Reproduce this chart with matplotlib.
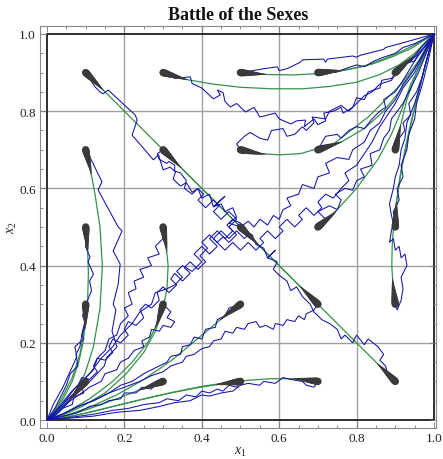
import numpy as np
import matplotlib
matplotlib.use("Agg")
import matplotlib.pyplot as plt
from matplotlib.collections import LineCollection

plt.rcParams['font.family'] = 'serif'
plt.rcParams['font.serif'] = ['Liberation Serif', 'DejaVu Serif']
plt.rcParams['mathtext.fontset'] = 'custom'
plt.rcParams['mathtext.rm'] = 'Liberation Serif'
plt.rcParams['mathtext.it'] = 'Liberation Serif:italic'

TITLE = "Battle of the Sexes"
XLABEL = "$x_1$"
YLABEL = "$x_2$"
tick_values = [0.0, 0.2, 0.4, 0.6, 0.8, 1.0]
tick_labels = ["0.0", "0.2", "0.4", "0.6", "0.8", "1.0"]

# starting points (comet heads)
starts = [(0.1, 0.9), (0.3, 0.9), (0.5, 0.9), (0.7, 0.9), (0.9, 0.9),
          (0.1, 0.7), (0.3, 0.7), (0.5, 0.7), (0.7, 0.7), (0.9, 0.7),
          (0.1, 0.5), (0.3, 0.5), (0.5, 0.5), (0.7, 0.5), (0.9, 0.5),
          (0.1, 0.3), (0.3, 0.3), (0.5, 0.3), (0.7, 0.3), (0.9, 0.3),
          (0.1, 0.1), (0.3, 0.1), (0.5, 0.1), (0.7, 0.1), (0.9, 0.1)]

# deterministic trajectories (green), same order as starts
green_paths = [
    [(0.1, 0.9), (0.3, 0.7), (0.5, 0.5)],
    [(0.30, 0.90), (0.36, 0.882), (0.43, 0.870), (0.50, 0.862), (0.58, 0.858), (0.66, 0.858), (0.73, 0.864), (0.80, 0.875), (0.86, 0.895), (0.91, 0.92), (0.95, 0.95), (1, 1)],
    [(0.50, 0.90), (0.57, 0.895), (0.64, 0.894), (0.71, 0.898), (0.78, 0.908), (0.84, 0.922), (0.89, 0.94), (0.94, 0.962), (1, 1)],
    [(0.70, 0.90), (0.76, 0.905), (0.82, 0.917), (0.87, 0.935), (0.92, 0.957), (0.96, 0.977), (1, 1)],
    [(0.9, 0.9), (0.95, 0.945), (1, 1)],
    [(0.10, 0.70), (0.111, 0.655), (0.124, 0.585), (0.137, 0.50), (0.143, 0.40), (0.137, 0.29), (0.12, 0.19), (0.098, 0.12), (0.065, 0.06), (0.03, 0.02), (0, 0)],
    [(0.3, 0.7), (0.5, 0.5)],
    [(0.50, 0.70), (0.55, 0.69), (0.60, 0.687), (0.655, 0.69), (0.74, 0.715), (0.83, 0.785), (0.875, 0.83), (0.915, 0.87), (0.96, 0.93), (1, 1)],
    [(0.70, 0.70), (0.76, 0.72), (0.82, 0.755), (0.87, 0.80), (0.91, 0.85), (0.95, 0.91), (1, 1)],
    [(0.90, 0.70), (0.913, 0.76), (0.93, 0.83), (0.955, 0.90), (0.98, 0.96), (1, 1)],
    [(0.10, 0.50), (0.105, 0.44), (0.107, 0.38), (0.105, 0.31), (0.098, 0.24), (0.085, 0.17), (0.065, 0.11), (0.04, 0.06), (0.018, 0.022), (0, 0)],
    [(0.30, 0.50), (0.308, 0.45), (0.313, 0.40), (0.31, 0.34), (0.30, 0.29), (0.28, 0.23), (0.25, 0.175), (0.205, 0.12), (0.15, 0.07), (0.09, 0.035), (0.04, 0.012), (0, 0)],
    [(0.5, 0.5), (0.56, 0.44)],
    [(0.70, 0.50), (0.74, 0.534), (0.80, 0.60), (0.855, 0.675), (0.89, 0.74), (0.915, 0.80), (0.94, 0.87), (0.97, 0.93), (1, 1)],
    [(0.90, 0.50), (0.903, 0.56), (0.912, 0.63), (0.925, 0.70), (0.94, 0.77), (0.958, 0.84), (0.975, 0.91), (1, 1)],
    [(0.10, 0.30), (0.099, 0.25), (0.093, 0.20), (0.082, 0.15), (0.065, 0.10), (0.042, 0.055), (0.018, 0.02), (0, 0)],
    [(0.30, 0.30), (0.285, 0.25), (0.26, 0.20), (0.22, 0.15), (0.17, 0.10), (0.11, 0.055), (0.05, 0.02), (0, 0)],
    [(0.50, 0.30), (0.46, 0.27), (0.41, 0.228), (0.36, 0.186), (0.32, 0.153), (0.25, 0.105), (0.18, 0.065), (0.11, 0.033), (0.05, 0.012), (0, 0)],
    [(0.7, 0.3), (0.5, 0.5)],
    [(0.90, 0.30), (0.894, 0.35), (0.891, 0.40), (0.892, 0.45), (0.896, 0.51), (0.905, 0.58), (0.918, 0.66), (0.935, 0.74), (0.955, 0.83), (0.975, 0.91), (1, 1)],
    [(0.1, 0.1), (0.07, 0.065), (0.04, 0.035), (0, 0)],
    [(0.30, 0.10), (0.24, 0.078), (0.18, 0.055), (0.12, 0.033), (0.06, 0.013), (0, 0)],
    [(0.50, 0.10), (0.44, 0.092), (0.38, 0.082), (0.31, 0.068), (0.24, 0.052), (0.17, 0.035), (0.10, 0.018), (0.05, 0.007), (0, 0)],
    [(0.70, 0.10), (0.64, 0.107), (0.58, 0.107), (0.52, 0.103), (0.46, 0.096), (0.405, 0.088), (0.33, 0.073), (0.26, 0.057), (0.19, 0.04), (0.12, 0.022), (0.06, 0.009), (0, 0)],
    [(0.9, 0.1), (0.7, 0.3), (0.5, 0.5)],
]

# stochastic trajectories (blue), waypoints
blue_paths = [
    [(0.10, 0.90), (0.124, 0.863), (0.137, 0.85), (0.145, 0.845), (0.158, 0.855), (0.228, 0.79), (0.233, 0.777), (0.22, 0.738), (0.275, 0.674), (0.288, 0.687), (0.30, 0.648), (0.318, 0.655), (0.332, 0.643), (0.326, 0.624), (0.345, 0.606), (0.36, 0.615), (0.375, 0.59), (0.39, 0.60), (0.40, 0.575), (0.42, 0.585), (0.43, 0.552), (0.46, 0.58), (0.43, 0.552), (0.45, 0.56), (0.46, 0.54), (0.48, 0.55), (0.49, 0.525), (0.47, 0.51), (0.50, 0.50), (0.52, 0.515), (0.535, 0.50), (0.55, 0.52), (0.57, 0.505), (0.585, 0.53), (0.60, 0.52), (0.61, 0.545), (0.63, 0.555), (0.62, 0.575), (0.65, 0.585), (0.66, 0.61), (0.69, 0.60), (0.70, 0.63), (0.73, 0.64), (0.72, 0.665), (0.75, 0.68), (0.78, 0.675), (0.79, 0.70), (0.82, 0.72), (0.835, 0.75), (0.86, 0.77), (0.875, 0.80), (0.90, 0.83), (0.92, 0.87), (0.95, 0.91), (0.975, 0.955), (1, 1)],
    [(0.30, 0.90), (0.33, 0.885), (0.37, 0.889), (0.375, 0.872), (0.40, 0.86), (0.43, 0.832), (0.448, 0.842), (0.44, 0.855), (0.455, 0.848), (0.46, 0.825), (0.474, 0.811), (0.49, 0.82), (0.513, 0.798), (0.535, 0.81), (0.55, 0.785), (0.57, 0.79), (0.59, 0.795), (0.60, 0.78), (0.63, 0.767), (0.645, 0.775), (0.668, 0.777), (0.665, 0.76), (0.69, 0.78), (0.70, 0.765), (0.72, 0.775), (0.715, 0.795), (0.74, 0.80), (0.76, 0.81), (0.765, 0.795), (0.79, 0.81), (0.80, 0.835), (0.82, 0.83), (0.83, 0.85), (0.86, 0.86), (0.865, 0.88), (0.89, 0.885), (0.91, 0.91), (0.94, 0.93), (0.97, 0.96), (1, 1)],
    [(0.50, 0.90), (0.56, 0.91), (0.595, 0.915), (0.60, 0.905), (0.62, 0.91), (0.655, 0.927), (0.66, 0.933), (0.715, 0.935), (0.72, 0.927), (0.725, 0.935), (0.79, 0.943), (0.80, 0.94), (0.81, 0.945), (0.87, 0.96), (0.875, 0.965), (0.93, 0.98), (1, 1)],
    [(0.70, 0.90), (0.73, 0.905), (0.745, 0.90), (0.77, 0.91), (0.80, 0.92), (0.82, 0.915), (0.845, 0.93), (0.87, 0.94), (0.90, 0.95), (0.92, 0.965), (0.95, 0.975), (1, 1)],
    [(0.90, 0.90), (0.92, 0.91), (0.93, 0.925), (0.95, 0.93), (0.96, 0.95), (0.98, 0.97), (1, 1)],
    [(0.10, 0.70), (0.111, 0.681), (0.142, 0.617), (0.132, 0.596), (0.184, 0.50), (0.194, 0.49), (0.171, 0.438), (0.189, 0.404), (0.184, 0.352), (0.171, 0.30), (0.178, 0.285), (0.168, 0.23), (0.181, 0.189), (0.155, 0.163), (0.148, 0.14), (0.111, 0.10), (0.067, 0.06), (0.03, 0.025), (0, 0)],
    [(0.30, 0.70), (0.285, 0.69), (0.29, 0.675), (0.31, 0.665), (0.315, 0.67), (0.33, 0.66), (0.33, 0.645), (0.345, 0.64), (0.36, 0.62), (0.355, 0.60), (0.375, 0.585), (0.39, 0.60), (0.405, 0.585), (0.39, 0.57), (0.41, 0.55), (0.43, 0.57), (0.445, 0.555), (0.43, 0.54), (0.45, 0.52), (0.47, 0.54), (0.49, 0.52), (0.47, 0.50), (0.49, 0.48), (0.47, 0.46), (0.455, 0.475), (0.44, 0.46), (0.42, 0.48), (0.40, 0.46), (0.415, 0.445), (0.395, 0.425), (0.41, 0.41), (0.39, 0.39), (0.37, 0.41), (0.355, 0.395), (0.37, 0.38), (0.35, 0.36), (0.33, 0.38), (0.32, 0.365), (0.335, 0.35), (0.315, 0.33), (0.30, 0.345), (0.285, 0.33), (0.29, 0.31), (0.27, 0.29), (0.255, 0.30), (0.24, 0.285), (0.25, 0.265), (0.23, 0.245), (0.21, 0.255), (0.20, 0.235), (0.21, 0.22), (0.19, 0.20), (0.17, 0.21), (0.16, 0.19), (0.17, 0.175), (0.15, 0.155), (0.13, 0.16), (0.12, 0.14), (0.13, 0.125), (0.11, 0.105), (0.09, 0.11), (0.08, 0.09), (0.06, 0.07), (0.04, 0.045), (0.02, 0.02), (0, 0)],
    [(0.50, 0.70), (0.49, 0.715), (0.51, 0.735), (0.525, 0.745), (0.55, 0.73), (0.57, 0.725), (0.58, 0.75), (0.61, 0.755), (0.62, 0.735), (0.64, 0.74), (0.66, 0.76), (0.67, 0.75), (0.69, 0.77), (0.685, 0.785), (0.72, 0.78), (0.73, 0.80), (0.76, 0.815), (0.78, 0.80), (0.80, 0.82), (0.82, 0.84), (0.84, 0.85), (0.86, 0.87), (0.89, 0.88), (0.91, 0.91), (0.94, 0.93), (0.97, 0.97), (1, 1)],
    [(0.70, 0.70), (0.72, 0.735), (0.75, 0.74), (0.76, 0.73), (0.78, 0.75), (0.80, 0.76), (0.82, 0.755), (0.84, 0.78), (0.86, 0.80), (0.875, 0.81), (0.87, 0.83), (0.90, 0.85), (0.92, 0.88), (0.95, 0.93), (1, 1)],
    [(0.90, 0.70), (0.91, 0.73), (0.925, 0.75), (0.92, 0.77), (0.94, 0.79), (0.935, 0.82), (0.955, 0.85), (0.97, 0.89), (0.98, 0.93), (1, 1)],
    [(0.10, 0.50), (0.10, 0.448), (0.111, 0.422), (0.106, 0.41), (0.12, 0.378), (0.11, 0.36), (0.115, 0.335), (0.104, 0.308), (0.098, 0.256), (0.09, 0.222), (0.095, 0.21), (0.072, 0.19), (0.077, 0.165), (0.065, 0.137), (0.041, 0.085), (0.016, 0.04), (0, 0)],
    [(0.30, 0.50), (0.30, 0.47), (0.28, 0.45), (0.29, 0.43), (0.26, 0.42), (0.27, 0.40), (0.24, 0.39), (0.25, 0.37), (0.225, 0.36), (0.23, 0.34), (0.21, 0.33), (0.22, 0.30), (0.20, 0.29), (0.21, 0.27), (0.19, 0.25), (0.18, 0.22), (0.16, 0.21), (0.15, 0.18), (0.13, 0.16), (0.12, 0.13), (0.09, 0.10), (0.07, 0.07), (0.04, 0.04), (0, 0)],
    [(0.50, 0.50), (0.52, 0.48), (0.51, 0.47), (0.49, 0.49), (0.47, 0.47), (0.45, 0.49), (0.43, 0.47), (0.44, 0.46), (0.46, 0.44), (0.48, 0.46), (0.50, 0.44), (0.52, 0.46), (0.54, 0.44), (0.56, 0.46), (0.55, 0.47), (0.57, 0.49), (0.59, 0.47), (0.61, 0.49), (0.60, 0.50), (0.62, 0.52), (0.64, 0.50), (0.66, 0.52), (0.65, 0.53), (0.67, 0.55), (0.69, 0.53), (0.71, 0.55), (0.70, 0.565), (0.72, 0.585), (0.74, 0.575), (0.76, 0.60), (0.78, 0.62), (0.77, 0.64), (0.80, 0.66), (0.82, 0.69), (0.84, 0.72), (0.86, 0.76), (0.88, 0.79), (0.90, 0.82), (0.92, 0.86), (0.95, 0.90), (0.98, 0.96), (1, 1)],
    [(0.70, 0.50), (0.72, 0.52), (0.70, 0.54), (0.73, 0.555), (0.75, 0.545), (0.76, 0.57), (0.745, 0.585), (0.77, 0.60), (0.79, 0.595), (0.80, 0.62), (0.82, 0.63), (0.81, 0.65), (0.84, 0.66), (0.835, 0.69), (0.86, 0.70), (0.87, 0.73), (0.885, 0.75), (0.89, 0.78), (0.92, 0.82), (0.94, 0.86), (0.96, 0.90), (0.98, 0.95), (1, 1)],
    [(0.90, 0.50), (0.895, 0.54), (0.91, 0.57), (0.905, 0.60), (0.92, 0.63), (0.915, 0.66), (0.93, 0.70), (0.935, 0.74), (0.95, 0.78), (0.955, 0.82), (0.97, 0.87), (0.985, 0.93), (1, 1)],
    [(0.10, 0.30), (0.092, 0.27), (0.10, 0.25), (0.09, 0.22), (0.085, 0.19), (0.075, 0.17), (0.08, 0.14), (0.06, 0.12), (0.05, 0.09), (0.035, 0.06), (0.02, 0.03), (0, 0)],
    [(0.30, 0.30), (0.32, 0.28), (0.31, 0.265), (0.33, 0.255), (0.32, 0.24), (0.30, 0.245), (0.29, 0.23), (0.27, 0.235), (0.265, 0.215), (0.245, 0.205), (0.25, 0.19), (0.225, 0.18), (0.21, 0.16), (0.19, 0.15), (0.18, 0.13), (0.15, 0.12), (0.14, 0.10), (0.11, 0.085), (0.09, 0.07), (0.06, 0.05), (0.03, 0.02), (0, 0)],
    [(0.50, 0.30), (0.47, 0.29), (0.46, 0.27), (0.44, 0.26), (0.435, 0.24), (0.41, 0.235), (0.40, 0.21), (0.38, 0.215), (0.37, 0.195), (0.35, 0.19), (0.345, 0.17), (0.32, 0.165), (0.31, 0.15), (0.29, 0.14), (0.27, 0.13), (0.25, 0.12), (0.22, 0.10), (0.19, 0.09), (0.16, 0.07), (0.12, 0.05), (0.08, 0.035), (0.04, 0.015), (0, 0)],
    [(0.70, 0.30), (0.69, 0.285), (0.67, 0.275), (0.665, 0.26), (0.65, 0.27), (0.64, 0.255), (0.62, 0.26), (0.61, 0.245), (0.59, 0.25), (0.585, 0.235), (0.565, 0.245), (0.55, 0.24), (0.54, 0.255), (0.52, 0.25), (0.51, 0.235), (0.49, 0.24), (0.48, 0.225), (0.46, 0.23), (0.45, 0.21), (0.43, 0.205), (0.42, 0.19), (0.40, 0.185), (0.38, 0.17), (0.36, 0.165), (0.35, 0.15), (0.32, 0.14), (0.30, 0.125), (0.27, 0.115), (0.24, 0.10), (0.20, 0.085), (0.16, 0.07), (0.12, 0.05), (0.08, 0.035), (0.04, 0.015), (0, 0)],
    [(0.90, 0.30), (0.905, 0.285), (0.915, 0.31), (0.92, 0.34), (0.915, 0.37), (0.93, 0.40), (0.925, 0.43), (0.915, 0.42), (0.91, 0.45), (0.90, 0.44), (0.895, 0.47), (0.885, 0.46), (0.89, 0.49), (0.895, 0.51), (0.89, 0.53), (0.885, 0.56), (0.895, 0.60), (0.90, 0.63), (0.91, 0.66), (0.915, 0.70), (0.925, 0.73), (0.93, 0.77), (0.95, 0.82), (0.965, 0.87), (0.98, 0.93), (1, 1)],
    [(0.10, 0.10), (0.09, 0.085), (0.095, 0.07), (0.07, 0.06), (0.065, 0.04), (0.04, 0.03), (0.02, 0.01), (0, 0)],
    [(0.30, 0.10), (0.28, 0.095), (0.27, 0.08), (0.245, 0.085), (0.23, 0.07), (0.20, 0.07), (0.19, 0.055), (0.16, 0.05), (0.14, 0.04), (0.11, 0.035), (0.08, 0.02), (0.05, 0.012), (0, 0)],
    [(0.50, 0.10), (0.49, 0.085), (0.47, 0.09), (0.455, 0.075), (0.44, 0.08), (0.42, 0.07), (0.40, 0.075), (0.385, 0.06), (0.36, 0.065), (0.34, 0.05), (0.31, 0.055), (0.29, 0.045), (0.25, 0.04), (0.21, 0.03), (0.17, 0.025), (0.12, 0.015), (0.07, 0.008), (0, 0)],
    [(0.70, 0.10), (0.69, 0.085), (0.67, 0.09), (0.66, 0.10), (0.63, 0.105), (0.61, 0.11), (0.59, 0.095), (0.56, 0.10), (0.55, 0.09), (0.52, 0.095), (0.50, 0.09), (0.48, 0.075), (0.45, 0.07), (0.42, 0.062), (0.40, 0.065), (0.37, 0.05), (0.33, 0.045), (0.29, 0.035), (0.24, 0.025), (0.18, 0.02), (0.12, 0.01), (0.06, 0.005), (0, 0)],
    [(0.90, 0.10), (0.88, 0.12), (0.875, 0.14), (0.86, 0.155), (0.87, 0.17), (0.855, 0.19), (0.83, 0.21), (0.82, 0.195), (0.80, 0.22), (0.79, 0.20), (0.77, 0.22), (0.76, 0.21), (0.75, 0.235), (0.73, 0.25), (0.71, 0.26), (0.69, 0.28), (0.68, 0.30), (0.66, 0.32), (0.645, 0.345), (0.63, 0.335), (0.62, 0.36), (0.60, 0.375), (0.585, 0.39), (0.595, 0.41), (0.57, 0.42), (0.59, 0.44), (0.57, 0.42), (0.56, 0.445), (0.54, 0.455), (0.53, 0.48), (0.51, 0.49), (0.50, 0.51), (0.48, 0.52), (0.465, 0.505), (0.48, 0.49), (0.46, 0.47), (0.44, 0.49), (0.42, 0.47), (0.44, 0.45), (0.42, 0.43), (0.40, 0.45), (0.38, 0.43), (0.40, 0.41), (0.375, 0.385), (0.35, 0.40), (0.335, 0.385), (0.35, 0.37), (0.33, 0.35), (0.31, 0.34), (0.28, 0.33), (0.27, 0.30), (0.24, 0.28), (0.22, 0.25), (0.19, 0.22), (0.17, 0.19), (0.14, 0.16), (0.11, 0.12), (0.07, 0.08), (0.04, 0.04), (0, 0)],
]

GREEN = '#35924a'
BLUE = '#1212aa'
COMET = '#3a3a3a'


def draw_comet(ax, path, length=0.065, n=18, wmax=5.4, wmin=0.6):
    p = np.asarray(path, float)
    d = np.r_[0, np.cumsum(np.hypot(*np.diff(p, axis=0).T))]
    L = min(length, d[-1])
    s = np.linspace(0, L, n)
    xs = np.interp(s, d, p[:, 0])
    ys = np.interp(s, d, p[:, 1])
    segs = [[(xs[i], ys[i]), (xs[i + 1], ys[i + 1])] for i in range(n - 1)]
    widths = np.linspace(wmax, wmin, n - 1)
    lc = LineCollection(segs, linewidths=widths, colors=COMET,
                        capstyle='round', zorder=5)
    ax.add_collection(lc)


fig = plt.figure(figsize=(4.43, 4.60), dpi=100)
ax = fig.add_axes([40 / 443, 31 / 460, 396 / 443, 402 / 460])
ax.set_xlim(-0.0181, 1.0052)
ax.set_ylim(-0.0207, 1.0207)

for v in [0.2, 0.4, 0.6, 0.8]:
    ax.axvline(v, color='#a0a0a0', lw=1.0, zorder=1)
    ax.axhline(v, color='#a0a0a0', lw=1.0, zorder=1)
ax.plot([0, 1, 1, 0, 0], [0, 0, 1, 1, 0], color='#1e1e1e', lw=1.3, zorder=1.5)

for gp in green_paths:
    g = np.asarray(gp)
    ax.plot(g[:, 0], g[:, 1], color=GREEN, lw=0.9, zorder=2)

for bp in blue_paths:
    b = np.asarray(bp)
    ax.plot(b[:, 0], b[:, 1], color=BLUE, lw=0.75, zorder=3,
            solid_joinstyle='miter')

for gp in green_paths:
    draw_comet(ax, gp)

for sp in ax.spines.values():
    sp.set_color('#8a8a8a')
    sp.set_linewidth(0.8)

ax.set_xticks(tick_values)
ax.set_xticklabels(tick_labels)
ax.set_yticks(tick_values)
ax.set_yticklabels(tick_labels)
ax.set_xticks(np.arange(0, 1.001, 0.05), minor=True)
ax.set_yticks(np.arange(0, 1.001, 0.05), minor=True)
ax.tick_params(which='both', direction='in', top=True, right=True,
               color='#777777', width=0.6, labelsize=9.5, pad=3,
               labelcolor='#222222')
ax.tick_params(which='major', length=4.5)
ax.tick_params(which='minor', length=2.5)

fig.text(238 / 443, 1 - 15 / 460, TITLE, ha='center', va='center',
         fontsize=13, fontweight='bold', color='#111111')
fig.text(240 / 443, 1 - 452 / 460, XLABEL, ha='center', va='center',
         fontsize=10, color='#222222')
fig.text(12 / 443, 1 - 228 / 460, YLABEL, ha='center', va='center',
         fontsize=10, rotation=90, color='#222222')

fig.savefig('out.png', dpi=100)
